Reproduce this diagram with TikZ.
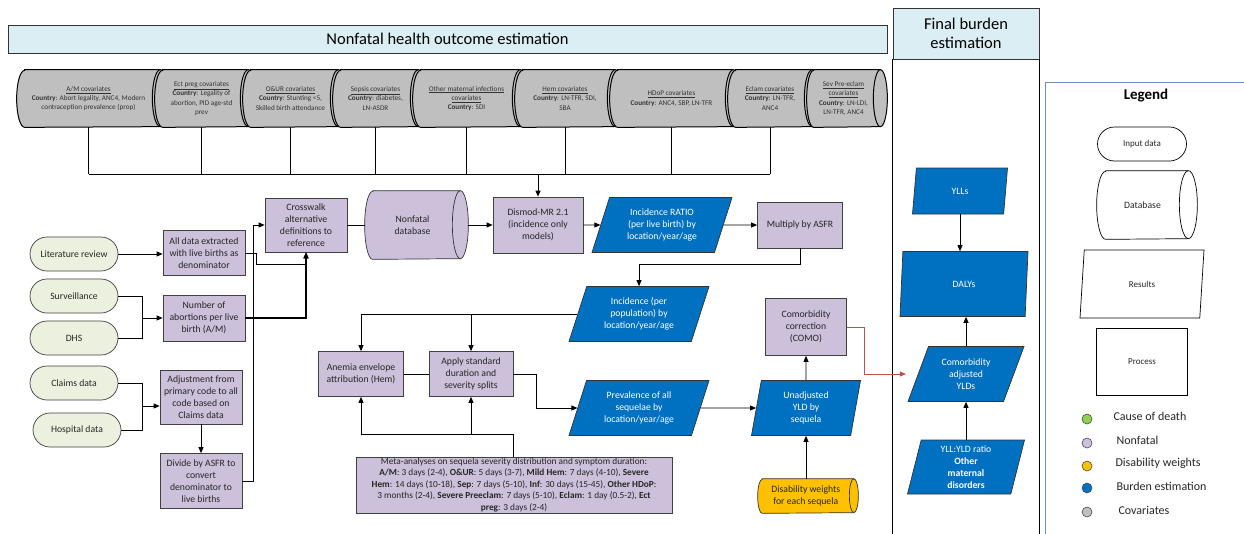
\documentclass[tikz,border=0pt]{standalone}
\usepackage{fontspec}
\setmainfont{Carlito}
\usepackage{tikz}
\usetikzlibrary{arrows.meta, positioning}
\usetikzlibrary{shapes.geometric, shapes.misc}
\usetikzlibrary{calc}

\definecolor{hdrblue}{HTML}{DAEEF3}
\definecolor{inputgreen}{HTML}{EBF1DE}
\definecolor{nonfatal}{HTML}{CCC0DA}
\definecolor{burden}{HTML}{0070C0}
\definecolor{dwyellow}{HTML}{FFC000}
\definecolor{covgray}{HTML}{BFBFBF}
\definecolor{codgreen}{HTML}{92D050}
\definecolor{comored}{HTML}{C0504D}
\definecolor{legendline}{HTML}{6F8FBF}

\pgfdeclarelayer{background}
\pgfsetlayers{background,main}

\newcommand{\covtitle}[1]{\underline{#1}}
\newcommand{\ctry}{\textbf{Country}}
% drum outline round a node: [options]{node}{end x radius}{half height}{fill}
\newcommand{\drumshape}[5][]{%
  \begin{pgfonlayer}{background}
    \filldraw[fill=#5, draw=black!80, line width=0.7pt, #1] ([xshift=#3]#2.north west) -- (#2.north east)
      arc[start angle=90, end angle=-90, x radius=#3, y radius=#4]
      -- ([xshift=#3]#2.south west)
      arc[start angle=270, end angle=90, x radius=#3, y radius=#4] -- cycle;
    \draw[draw=black!80, line width=0.7pt, #1] (#2.north east)
      arc[start angle=90, end angle=270, x radius=#3, y radius=#4];
  \end{pgfonlayer}}

\tikzset{
  base/.style={draw=black!75, line width=0.7pt, align=center, inner sep=1pt, text=black!85,
    font=\fontsize{9.7}{12}\selectfont},
  inbox/.style={base, rounded rectangle, fill=inputgreen, minimum width=90pt, minimum height=34pt},
  procbox/.style={base, rectangle, fill=nonfatal},
  resbox/.style={base, trapezium, trapezium stretches body=true, trapezium left angle=63,
    trapezium right angle=117, fill=burden, text=white, draw=black!80},
  dbnode/.style={base, rectangle, draw=none, fill=none},
  covnode/.style={dbnode, minimum height=57pt, font=\fontsize{7.2}{9.3}\selectfont, text=black!80},
  conn/.style={line width=0.7pt},
  arr/.style={conn, -{Triangle[length=6pt,width=5pt]}},
  dot/.style={circle, draw=black!70, line width=0.6pt, minimum size=10pt, inner sep=0pt},
  lgtext/.style={anchor=west, font=\fontsize{12}{14}\selectfont, text=black!85},
  lgshape/.style={base, draw=black, fill=white, font=\fontsize{9}{11}\selectfont},
}

\begin{document}
\begin{tikzpicture}[x=1pt, y=-1pt]
\useasboundingbox (0,0) rectangle (1244,533);

% headers
\node[draw=black!80, line width=0.7pt, fill=hdrblue, minimum width=879pt, minimum height=28pt, inner sep=0pt,
  font=\fontsize{16.5}{18}\selectfont] (nfhdr) at (447.5,39) {Nonfatal health outcome estimation};
\node[draw=black!80, line width=0.7pt, fill=hdrblue, minimum width=146pt, minimum height=51pt, inner sep=0pt, align=center,
  font=\fontsize{16.5}{18.5}\selectfont] (fbhdr) at (966,33.5) {Final burden\\estimation};
\draw[line width=0.8pt] (fbhdr.south west) -- ++(0,490);
\draw[line width=0.8pt] (fbhdr.south east) -- ++(0,490);

% covariates
\node[covnode, minimum width=143pt] (amcov) at (88.5,98.5) {\covtitle{A/M covariates}\\\ctry: Abort legality, ANC4, Modern\\contraception prevalence (prop)};
\node[covnode, minimum width=93pt] (ectcov) at (201.5,98.5) {\covtitle{Ect preg covariates}\\\ctry: Legality of\\abortion, PID age-std\\prev};
\node[covnode, minimum width=95pt] (ourcov) at (290.5,98.5) {\covtitle{O\&UR covariates}\\\ctry: Stunting <5,\\Skilled birth attendance};
\node[covnode, minimum width=85pt] (sepcov) at (375.5,98.5) {\covtitle{Sepsis covariates}\\\ctry: diabetes,\\LN-ASDR};
\node[covnode, minimum width=107pt] (infcov) at (466.5,98.5) {\covtitle{Other maternal infections}\\\covtitle{covariates}\\\ctry: SDI};
\node[covnode, minimum width=100pt] (hemcov) at (565,98.5) {\covtitle{Hem covariates}\\\ctry: LN-TFR, SDI,\\SBA};
\node[covnode, minimum width=123pt] (hdpcov) at (671.5,98.5) {\covtitle{HDoP covariates}\\\ctry: ANC4, SBP, LN-TFR};
\node[covnode, minimum width=84pt] (eclcov) at (770,98.5) {\covtitle{Eclam covariates}\\\ctry: LN-TFR,\\ANC4};
\node[covnode, minimum width=73pt] (sevcov) at (843.5,98.5) {\covtitle{Sev Pre-eclam}\\\covtitle{covariates}\\\ctry: LN-LDI,\\LN-TFR, ANC4};
\foreach \c in {amcov, ectcov, ourcov, sepcov, infcov, hemcov, hdpcov, eclcov}
  \drumshape[draw=black, line width=1pt]{\c}{8pt}{28.5pt}{covgray};
\drumshape[draw=black, line width=1pt]{sevcov}{7pt}{28.5pt}{covgray}

% input data
\node[inbox] (lit) at (74,254) {Literature review};
\node[inbox] (surv) at (74,296) {Surveillance};
\node[inbox] (dhs) at (74,338) {DHS};
\node[inbox] (claims) at (74,383) {Claims data};
\node[inbox] (hosp) at (77,430) {Hospital data};

% nonfatal processes
\node[procbox, minimum width=82pt, minimum height=45pt] (alldata) at (204,253) {All data extracted\\with live births as\\denominator};
\node[procbox, minimum width=82pt, minimum height=46pt] (numab) at (204,318) {Number of\\abortions per live\\birth (A/M)};
\node[procbox, minimum width=82pt, minimum height=54pt] (adjust) at (201,397) {Adjustment from\\primary code to all\\code based on\\Claims data};
\node[procbox, minimum width=82pt, minimum height=55pt] (divide) at (201,481) {Divide by ASFR to\\convert\\denominator to\\live births};
\node[procbox, minimum width=82pt, minimum height=54pt] (xwalk) at (306,225) {Crosswalk\\alternative\\definitions to\\reference};
\node[dbnode, minimum width=95pt, minimum height=68pt] (nfdb) at (412.5,225) {Nonfatal\\database};
\drumshape{nfdb}{8pt}{34pt}{nonfatal}
\node[procbox, minimum width=90pt, minimum height=56pt] (dismod) at (538,225) {Dismod-MR 2.1\\(incidence only\\models)};
\node[resbox, minimum width=140pt, minimum height=55pt] (incratio) at (662,225) {Incidence RATIO\\(per live birth) by\\location/year/age};
\node[procbox, minimum width=85pt, minimum height=46pt] (multiply) at (800,225) {Multiply by ASFR};
\node[resbox, minimum width=140pt, minimum height=55pt] (incpop) at (639,314) {Incidence (per\\population) by\\location/year/age};
\node[procbox, minimum width=85pt, minimum height=45pt] (anemia) at (361,374) {Anemia envelope\\attribution (Hem)};
\node[procbox, minimum width=84pt, minimum height=45pt] (apply) at (471,374) {Apply standard\\duration and\\severity splits};
\node[resbox, minimum width=140pt, minimum height=55pt] (prev) at (639,408) {Prevalence of all\\sequelae by\\location/year/age};
\node[procbox, minimum width=316pt, minimum height=56pt, inner sep=0pt, font=\fontsize{9.3}{11.5}\selectfont] (meta) at (514,485)
  {Meta-analyses on sequela severity distribution and symptom duration:\\
   \textbf{A/M}: 3 days (2-4), \textbf{O\&UR}: 5 days (3-7), \textbf{Mild Hem}: 7 days (4-10), \textbf{Severe}\\
   \textbf{Hem}: 14 days (10-18), \textbf{Sep}: 7 days (5-10), \textbf{Inf}: 30 days (15-45), \textbf{Other HDoP}:\\
   3 months (2-4), \textbf{Severe Preeclam}: 7 days (5-10), \textbf{Eclam}: 1 day (0.5-2), \textbf{Ect}\\
   \textbf{preg}: 3 days (2-4)};
\node[procbox, minimum width=81pt, minimum height=57pt] (como) at (806,327) {Comorbidity\\correction\\(COMO)};
\node[resbox, minimum width=109pt, minimum height=55pt, trapezium left angle=74, trapezium right angle=106] (unadj) at (806,408) {Unadjusted\\YLD by\\sequela};
\node[dbnode, minimum width=95.5pt, minimum height=34pt] (dw) at (805.75,496) {Disability weights\\for each sequela};
\drumshape{dw}{4.5pt}{17pt}{dwyellow}

% final burden
\node[resbox, minimum width=95pt, minimum height=46pt, trapezium left angle=65, trapezium right angle=115] (ylls) at (960,191) {YLLs};
\node[resbox, minimum width=128pt, minimum height=65pt, trapezium left angle=71, trapezium right angle=109] (dalys) at (964,284) {DALYs};
\node[resbox, minimum width=116pt, minimum height=55pt, trapezium left angle=58, trapezium right angle=122] (comoadj) at (966,374) {Comorbidity\\adjusted\\YLDs};
\node[resbox, minimum width=117pt, minimum height=54pt, trapezium left angle=73, trapezium right angle=107] (ratio) at (966,467) {YLL:YLD ratio\\\textbf{Other}\\\textbf{maternal}\\\textbf{disorders}};

% legend
\draw[legendline, line width=0.7pt] (1045,82) rectangle (1260,545);
\node[font=\bfseries\fontsize{15}{17}\selectfont] (lgtitle) at (1146,96) {Legend};
\node[lgshape, rounded rectangle, minimum width=91pt, minimum height=34pt] (lgin) at (1142,144) {Input data};
\node[lgshape, dbnode, minimum width=91pt, minimum height=68pt] (lgdb) at (1142.5,205) {Database};
\drumshape[draw=black]{lgdb}{9pt}{34pt}{white}
\node[lgshape, trapezium, trapezium stretches body=true, trapezium left angle=63, trapezium right angle=117, minimum width=124pt, minimum height=68pt] (lgres) at (1142,284) {Results};
\node[lgshape, rectangle, minimum width=91pt, minimum height=67pt] (lgproc) at (1142,362) {Process};
\node[dot, fill=codgreen] (lgcod) at (1087,419) {};
\node[dot, fill=nonfatal] (lgnf) at (1087,443) {};
\node[dot, fill=dwyellow] (lgdw) at (1087,466) {};
\node[dot, fill=burden] (lgbe) at (1087,488) {};
\node[dot, fill=covgray] (lgcov) at (1087,512) {};
\node[lgtext] (lgcodtxt) at (1110,416) {Cause of death};
\node[lgtext] (lgnftxt) at (1113,440) {Nonfatal};
\node[lgtext] (lgdwtxt) at (1112,463) {Disability weights};
\node[lgtext] (lgbetxt) at (1113,486) {Burden estimation};
\node[lgtext] (lgcovtxt) at (1115,510) {Covariates};

% connectors: covariates to Dismod
\coordinate (covbus) at (538,174);
\foreach \c in {amcov, ectcov, ourcov, sepcov, infcov, hemcov, hdpcov, eclcov}
  \draw[conn] (\c.center |- \c.south) -- (\c.center |- covbus);
\draw[conn] (amcov.center |- covbus) -- (eclcov.center |- covbus);
\draw[arr, line width=1pt] (covbus) -- (dismod.north);

% connectors: inputs
\coordinate (srcj) at (142,318);
\coordinate (clmj) at (142,406);
\draw[arr] (lit.east) -- (lit.east -| alldata.west);
\draw[conn] (surv.east) -| (srcj);
\draw[conn] (dhs.east) -| (srcj);
\draw[arr] (srcj) -- (numab.west);
\draw[conn] (claims.east) -| (clmj);
\draw[conn] (hosp.east) -| (clmj);
\draw[arr] (clmj) -- (clmj -| adjust.west);
\draw[arr] (adjust) -- (divide);
\draw[arr] (alldata.east) -| ++(11,11) -| (xwalk.south);
\draw[arr, line width=1.3pt] (numab.east) -| (xwalk.south);
\draw[arr] (divide.east) -- ++(11,0) |- (xwalk.west);

% connectors: main chain
\draw[conn] (xwalk.east) -- (nfdb.west);
\draw[arr] ([xshift=8pt]nfdb.east) -- (dismod.west);
\draw[arr] (dismod) -- (incratio);
\draw[arr] (incratio) -- (multiply);
\draw[arr] (multiply.south) -- ++(0,16) -| (incpop.north);
\draw[arr] (incpop.west) -| (anemia.north);
\draw[arr] (incpop.west -| apply.north) -- (apply.north);
\draw[conn] (anemia) -- (apply);
\draw[arr] (apply.east) -- ++(23,0) |- (prev.west);
\coordinate (metaj) at (513,434);
\draw[conn] (metaj |- meta.north) -- (metaj);
\draw[arr] (metaj) -| (anemia.south);
\draw[arr] (metaj -| apply.south) -- (apply.south);
\draw[arr] (prev) -- (unadj);
\draw[arr] (unadj.south |- dw.north) -- (unadj.south);
\draw[arr] (unadj) -- (como);
\draw[arr, comored] (como.east) -- ++(17,0) |- ([xshift=-12pt]comoadj.west);

% connectors: final burden
\draw[arr] (ylls.south) -- (ylls.south |- dalys.north);
\draw[arr] (comoadj.north) -- (comoadj.north |- dalys.south);
\draw[arr] (ratio.north) -- (ratio.north |- comoadj.south);
\end{tikzpicture}
\end{document}
